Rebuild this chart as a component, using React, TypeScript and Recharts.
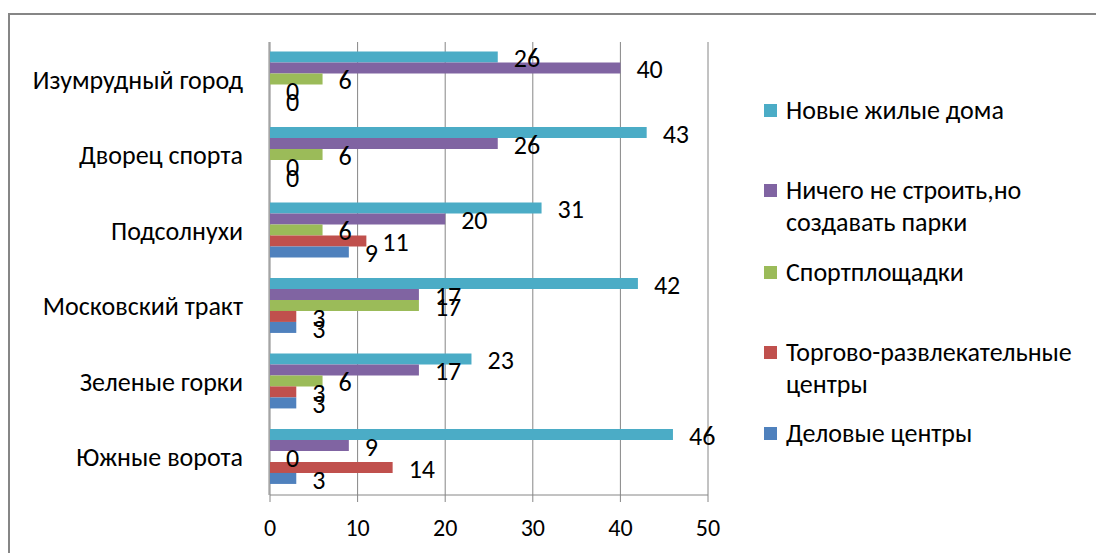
import React from "react"
import {
  BarChart,
  Bar,
  XAxis,
  YAxis,
  CartesianGrid,
  Legend,
  LabelList,
} from "recharts"

const districts = [
  "Изумрудный город",
  "Дворец спорта",
  "Подсолнухи",
  "Московский тракт",
  "Зеленые горки",
  "Южные ворота",
]

const newHomes = [26, 43, 31, 42, 23, 46]
const parksOnly = [40, 26, 20, 17, 17, 9]
const sportGrounds = [6, 6, 6, 17, 6, 0]
const shoppingCenters = [0, 0, 11, 3, 3, 14]
const businessCenters = [0, 0, 9, 3, 3, 3]

const xTicks = [0, 10, 20, 30, 40, 50]

const SERIES = [
  { key: "newHomes", name: "Новые жилые дома", lines: ["Новые жилые дома"], color: "#4BACC6", values: newHomes },
  { key: "parksOnly", name: "Ничего не строить,но создавать парки", lines: ["Ничего не строить,но", "создавать парки"], color: "#8064A2", values: parksOnly },
  { key: "sportGrounds", name: "Спортплощадки", lines: ["Спортплощадки"], color: "#9BBB59", values: sportGrounds },
  { key: "shoppingCenters", name: "Торгово-развлекательные центры", lines: ["Торгово-развлекательные", "центры"], color: "#C0504D", values: shoppingCenters },
  { key: "businessCenters", name: "Деловые центры", lines: ["Деловые центры"], color: "#4F81BD", values: businessCenters },
]

const chartData = districts.map((name, i) => {
  const row: Record<string, string | number> = { name }
  SERIES.forEach((s) => {
    row[s.key] = s.values[i]
  })
  return row
})

const GRAY = "#868686"
const FONT = "Carlito, Calibri, 'Liberation Sans', sans-serif"

// gaps between legend entries, as in the Excel original
const legendGaps = [0, 48, 18, 48, 17]

function ChartLegend() {
  return (
    <div style={{ fontFamily: FONT, fontSize: 26, color: "#000" }}>
      {SERIES.map((s, i) => (
        <div key={s.key} style={{ display: "flex", marginTop: legendGaps[i] }}>
          <div
            style={{
              width: 13,
              height: 13,
              background: s.color,
              marginTop: 10,
              marginRight: 9,
              flexShrink: 0,
            }}
          />
          <div>
            {s.lines.map((line) => (
              <div key={line} style={{ lineHeight: "32px", whiteSpace: "nowrap" }}>
                {line}
              </div>
            ))}
          </div>
        </div>
      ))}
    </div>
  )
}

function CategoryTick({ x, y, payload }: any) {
  return (
    <text
      x={x}
      y={y}
      dy="0.35em"
      textAnchor="end"
      fill="#000"
      fontSize={26}
      fontFamily={FONT}
    >
      {payload.value}
    </text>
  )
}

export default function App() {
  return (
    <div
      style={{
        position: "fixed",
        left: 8,
        top: 13,
        width: 1088,
        height: 540,
        boxSizing: "border-box",
        borderLeft: `2px solid ${GRAY}`,
        borderTop: `2px solid ${GRAY}`,
        background: "#fff",
        overflow: "hidden",
      }}
    >
      <BarChart
        width={1080}
        height={536}
        data={chartData}
        layout="vertical"
        margin={{ top: 27, right: 382, bottom: 0, left: 258 }}
        barCategoryGap="12.5%"
        barGap={0}
      >
        <CartesianGrid horizontal={false} stroke={GRAY} />
        <XAxis
          type="number"
          domain={[0, 50]}
          ticks={xTicks}
          height={56}
          tickSize={7}
          tickMargin={17}
          stroke={GRAY}
          tick={{ fill: "#000", fontSize: 24, fontFamily: FONT }}
        />
        <YAxis
          type="category"
          dataKey="name"
          width={1}
          tickSize={7}
          tickMargin={20}
          tickLine={false}
          axisLine={false}
          tick={<CategoryTick />}
        />
        <YAxis
          yAxisId="bands"
          type="number"
          domain={[0, 6]}
          ticks={[0, 1, 2, 3, 4, 5, 6]}
          width={1}
          tick={false}
          tickSize={7}
          stroke={GRAY}
        />
        <Legend
          layout="vertical"
          align="center"
          verticalAlign="middle"
          content={() => <ChartLegend />}
          wrapperStyle={{ left: 754, top: 79, width: 320 }}
        />
        {SERIES.map((s) => (
          <Bar
            key={s.key}
            dataKey={s.key}
            name={s.name}
            fill={s.color}
            minPointSize={0.01}
            isAnimationActive={false}
          >
            <LabelList
              dataKey={s.key}
              position="right"
              offset={16}
              dy={1}
              fill="#000"
              fontSize={26}
              fontFamily={FONT}
              formatter={(v: number) => String(v)}
            />
          </Bar>
        ))}
      </BarChart>
    </div>
  )
}
